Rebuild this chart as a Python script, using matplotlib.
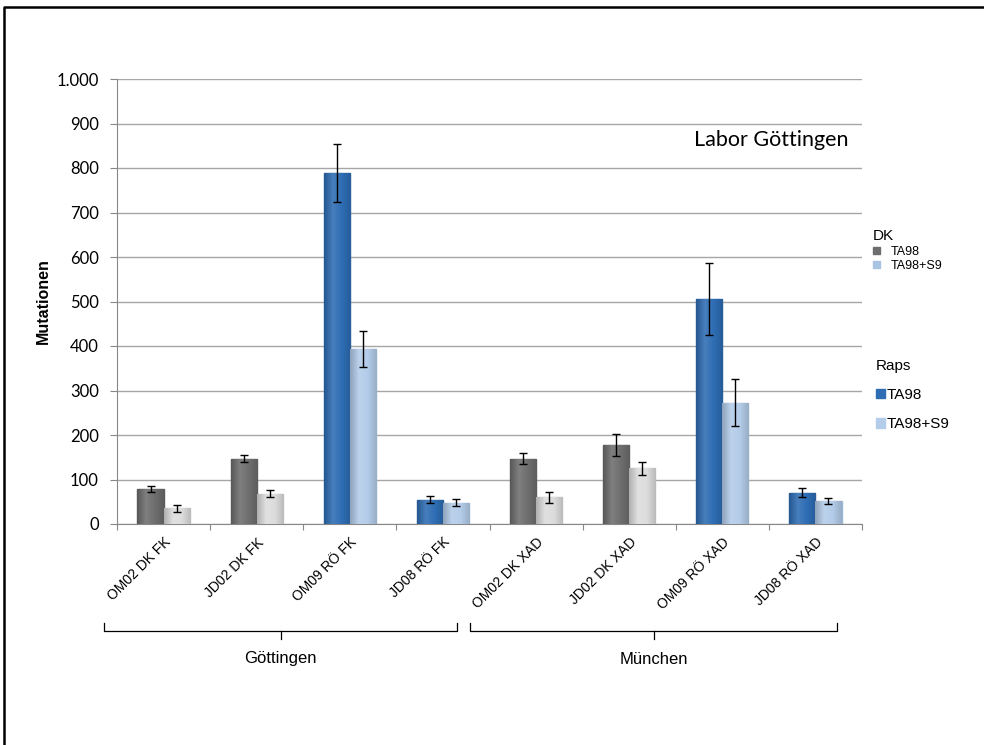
import numpy as np
import matplotlib.pyplot as plt
import matplotlib.colors as mcolors
from matplotlib.lines import Line2D
from matplotlib.patches import Patch

categories = ['OM02 DK FK', 'JD02 DK FK', 'OM09 RÖ FK', 'JD08 RÖ FK',
              'OM02 DK XAD', 'JD02 DK XAD', 'OM09 RÖ XAD', 'JD08 RÖ XAD']
ta98 = [79, 147, 789, 55, 147, 178, 505, 70]
ta98_err = [6, 8, 65, 8, 13, 25, 81, 10]
ta98_s9 = [35, 68, 393, 48, 60, 125, 273, 52]
ta98_s9_err = [8, 8, 41, 8, 12, 15, 52, 6]
# DK samples in grey, Raps (RÖ) samples in blue
is_dk = [True, True, False, False, True, True, False, False]
groups = ['Göttingen', 'München']

c_dk1, c_dk2 = '#6e6e6e', '#dcdcdc'
c_rp1, c_rp2 = '#2e6db4', '#b3cce9'


def shade(c, f):
    r = np.array(mcolors.to_rgb(c))
    if f < 1:
        return tuple(r * f)
    return tuple(r + (1 - r) * (f - 1))


def gradient_bars(ax, bars, colors):
    # horizontal shading across each bar for a rounded look
    g = np.linspace(0, 1, 64).reshape(1, -1)
    for b, c in zip(bars, colors):
        cmap = mcolors.LinearSegmentedColormap.from_list(
            'bar', [shade(c, 0.8), shade(c, 1.12), c, shade(c, 0.85)])
        x0, y0 = b.get_x(), b.get_y()
        im = ax.imshow(g, cmap=cmap, aspect='auto', zorder=3,
                       extent=[x0, x0 + b.get_width(), y0, y0 + b.get_height()])
        im.set_clip_path(b)
        b.set_facecolor('none')


fig = plt.figure(figsize=(9.84, 7.45), dpi=100)
ax = fig.add_axes([117/984, 221/745, 745/984, 445/745])

x = np.arange(len(categories))
w = 0.28
col1 = [c_dk1 if d else c_rp1 for d in is_dk]
col2 = [c_dk2 if d else c_rp2 for d in is_dk]
edge1 = ['#5a5a5a' if d else '#2a5f9c' for d in is_dk]
edge2 = ['#c4c4c4' if d else '#9ab7d8' for d in is_dk]

b1 = ax.bar(x - w/2, ta98, w, color=col1, edgecolor=edge1, linewidth=1, zorder=3)
b2 = ax.bar(x + w/2, ta98_s9, w, color=col2, edgecolor=edge2, linewidth=1, zorder=3)
gradient_bars(ax, b1, col1)
gradient_bars(ax, b2, col2)
ax.errorbar(x - w/2, ta98, yerr=ta98_err, fmt='none', ecolor='black',
            elinewidth=1, capsize=3, zorder=4)
ax.errorbar(x + w/2, ta98_s9, yerr=ta98_s9_err, fmt='none', ecolor='black',
            elinewidth=1, capsize=3, zorder=4)

ax.set_xlim(-0.5, len(categories) - 0.5)
ax.set_ylim(0, 1000)
ax.set_yticks(np.arange(0, 1001, 100))
ax.set_yticklabels(['0', '100', '200', '300', '400', '500', '600', '700',
                    '800', '900', '1.000'], family='Lato', fontsize=12)
ax.yaxis.grid(True, color='#a6a6a6', linewidth=1, zorder=0)
ax.tick_params(axis='y', length=5, color='#888888', pad=8)

ax.set_xticks(np.arange(-0.5, len(categories), 1))
ax.set_xticklabels([])
ax.tick_params(axis='x', length=4, color='#888888', direction='out')
for xi, lab in zip(x, categories):
    ax.text(xi, -25, lab, rotation=45, ha='right', va='top',
            rotation_mode='anchor', family='Liberation Sans', fontsize=10)

for s in ['top', 'right']:
    ax.spines[s].set_visible(False)
ax.spines['left'].set_color('#888888')
ax.spines['bottom'].set_color('#888888')

ax.set_ylabel('Mutationen', family='Liberation Sans', fontsize=11.5,
              fontweight='bold', labelpad=4)
ax.text(0.982, 0.863, 'Labor Göttingen', transform=ax.transAxes, ha='right',
        va='center', family='Lato', fontsize=15.5)


# brackets under the two site groups
def bracket(x0, x1, y, label):
    xm = (x0 + x1) / 2
    h = 8 / 745
    fig.add_artist(Line2D([x0, x0, xm, x1, x1],
                          [y + h, y, y, y, y + h],
                          transform=fig.transFigure, color='black', lw=0.9))
    fig.add_artist(Line2D([xm, xm], [y, y - h],
                          transform=fig.transFigure, color='black', lw=0.9))
    fig.text(xm, y - 28/745, label, ha='center', va='center',
             family='Liberation Sans', fontsize=12)


bracket(104/984, 457/984, (745-631)/745, groups[0])
bracket(470/984, 837/984, (745-631)/745, groups[1])

# legend: DK and Raps blocks
leg1 = fig.legend(handles=[Patch(color=c_dk1, label='TA98'),
                           Patch(color='#a9c3e3', label='TA98+S9')],
                  title='DK', loc='upper left',
                  bbox_to_anchor=(862/984, (745-218)/745), frameon=False,
                  prop={'family': 'Liberation Sans', 'size': 9},
                  handlelength=0.5, handleheight=0.5, handletextpad=0.9,
                  labelspacing=0.2)
leg1.get_title().set_fontsize(11)
leg1.get_title().set_family('Liberation Sans')
leg1._legend_box.align = 'left'

leg2 = fig.legend(handles=[Patch(color=c_rp1, label='TA98'),
                           Patch(color=c_rp2, label='TA98+S9')],
                  title='Raps', loc='upper left',
                  bbox_to_anchor=(862/984, (745-345)/745), frameon=False,
                  prop={'family': 'Liberation Sans', 'size': 11},
                  handlelength=0.6, handleheight=0.6, handletextpad=0.1,
                  labelspacing=1.0)
leg2.get_title().set_fontsize(11)
leg2.get_title().set_family('Liberation Sans')
leg2._legend_box.align = 'left'

# outer frame
fig.add_artist(Line2D([4/984, 4/984, 1], [0, 1 - 7/745, 1 - 7/745],
                      transform=fig.transFigure, color='black', lw=1.8))

fig.savefig('out.png', dpi=100)
